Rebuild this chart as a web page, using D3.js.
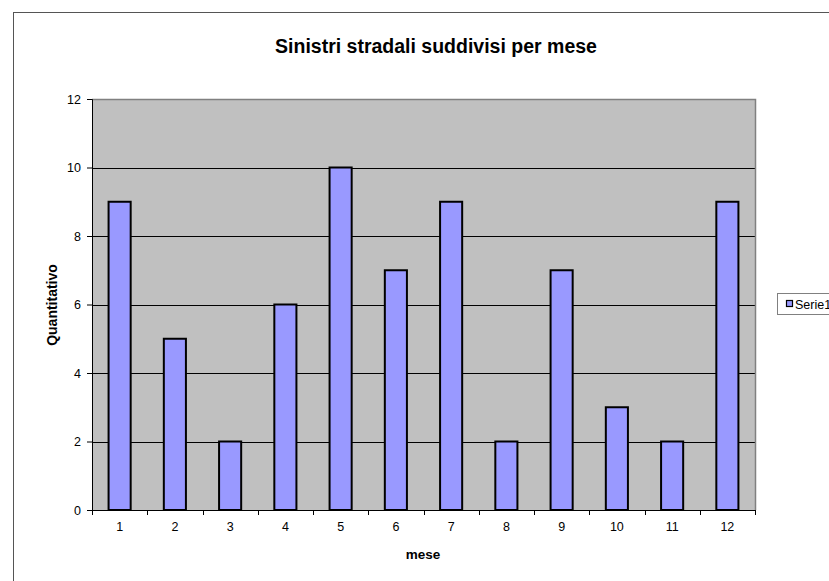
<!DOCTYPE html>
<html><head><meta charset="utf-8">
<script src="https://cdn.jsdelivr.net/npm/d3@7"></script>
<style>body{margin:0;background:#fff}svg{display:block;font-family:Arial,"Liberation Sans",sans-serif}</style>
</head><body><svg id="c" width="829" height="581"></svg>
<script>
const categories = ["1","2","3","4","5","6","7","8","9","10","11","12"];
const values = [9,5,2,6,10,7,9,2,7,3,2,9];
const yTicks = [0,2,4,6,8,10,12];
const seriesName = "Serie1";
const title = "Sinistri stradali suddivisi per mese";
const xTitle = "mese", yTitle = "Quantitativo";

const svg = d3.select("#c");
svg.append("rect").attr("x",13.5).attr("y",12.5).attr("width",840).attr("height",600)
  .attr("fill","#fff").attr("stroke","#555").attr("stroke-width",1);

const L=92, R=755, T=99, B=510;
const x = d3.scaleBand().domain(categories).range([L,R]).paddingInner(0.6).paddingOuter(0.3);
const xb = d3.scaleBand().domain(categories).range([L,R]);
const y = d3.scaleLinear().domain([0,12]).range([B,T]);

svg.append("rect").attr("x",L).attr("y",T).attr("width",R-L).attr("height",B-T).attr("fill","#c0c0c0");
svg.append("g").selectAll("line").data(yTicks.filter(d=>d>0&&d<12)).join("line")
  .attr("x1",L).attr("x2",R).attr("y1",d=>Math.round(y(d))+0.5).attr("y2",d=>Math.round(y(d))+0.5)
  .attr("stroke","#000").attr("stroke-width",1);
svg.append("path").attr("d",`M${L},${T+0.5}H${R+0.5}V${B}`).attr("fill","none").attr("stroke","#808080").attr("stroke-width",1.5);

svg.append("g").selectAll("rect").data(values).join("rect")
  .attr("x",(d,i)=>x(categories[i])).attr("width",x.bandwidth())
  .attr("y",d=>y(d)).attr("height",d=>B-y(d))
  .attr("fill","#9999ff").attr("stroke","#000").attr("stroke-width",2);

const ya = svg.append("g").attr("transform",`translate(${L},0)`)
  .call(d3.axisLeft(y).tickValues(yTicks).tickSize(5).tickPadding(6));
ya.select(".domain").attr("stroke","#000");
ya.selectAll("text").attr("font-size",12.5).attr("font-family","Arial,'Liberation Sans',sans-serif").attr("fill","#000");
const xa = svg.append("g").attr("transform",`translate(0,${B})`);
xa.append("line").attr("x1",L).attr("x2",R).attr("y1",0.5).attr("y2",0.5).attr("stroke","#000");
const bounds = categories.map(c=>xb(c)).concat([R]);
xa.selectAll("line.t").data(bounds).join("line").attr("class","t")
  .attr("x1",d=>Math.round(d)+0.5).attr("x2",d=>Math.round(d)+0.5).attr("y1",0).attr("y2",5).attr("stroke","#000");
xa.selectAll("text").data(categories).join("text")
  .attr("x",d=>xb(d)+xb.bandwidth()/2).attr("y",20.5).attr("text-anchor","middle")
  .attr("font-size",12.5).attr("fill","#000").text(d=>d);

svg.append("text").attr("x",436).attr("y",53).attr("text-anchor","middle")
  .attr("font-size",19.5).attr("font-weight","bold").text(title);
svg.append("text").attr("x",423).attr("y",559).attr("text-anchor","middle")
  .attr("font-size",13.5).attr("font-weight","bold").text(xTitle);
svg.append("text").attr("transform","translate(57,305) rotate(-90)").attr("text-anchor","middle")
  .attr("font-size",14).attr("font-weight","bold").text(yTitle);

const lg = svg.append("g");
lg.append("rect").attr("x",777.5).attr("y",293.5).attr("width",70).attr("height",21)
  .attr("fill","#fff").attr("stroke","#808080");
lg.append("rect").attr("x",786.5).attr("y",300.5).attr("width",6).attr("height",6)
  .attr("fill","#9999ff").attr("stroke","#000").attr("stroke-width",1.2);
lg.append("text").attr("x",795).attr("y",308.5).attr("font-size",12.5).text(seriesName);
</script></body></html>
